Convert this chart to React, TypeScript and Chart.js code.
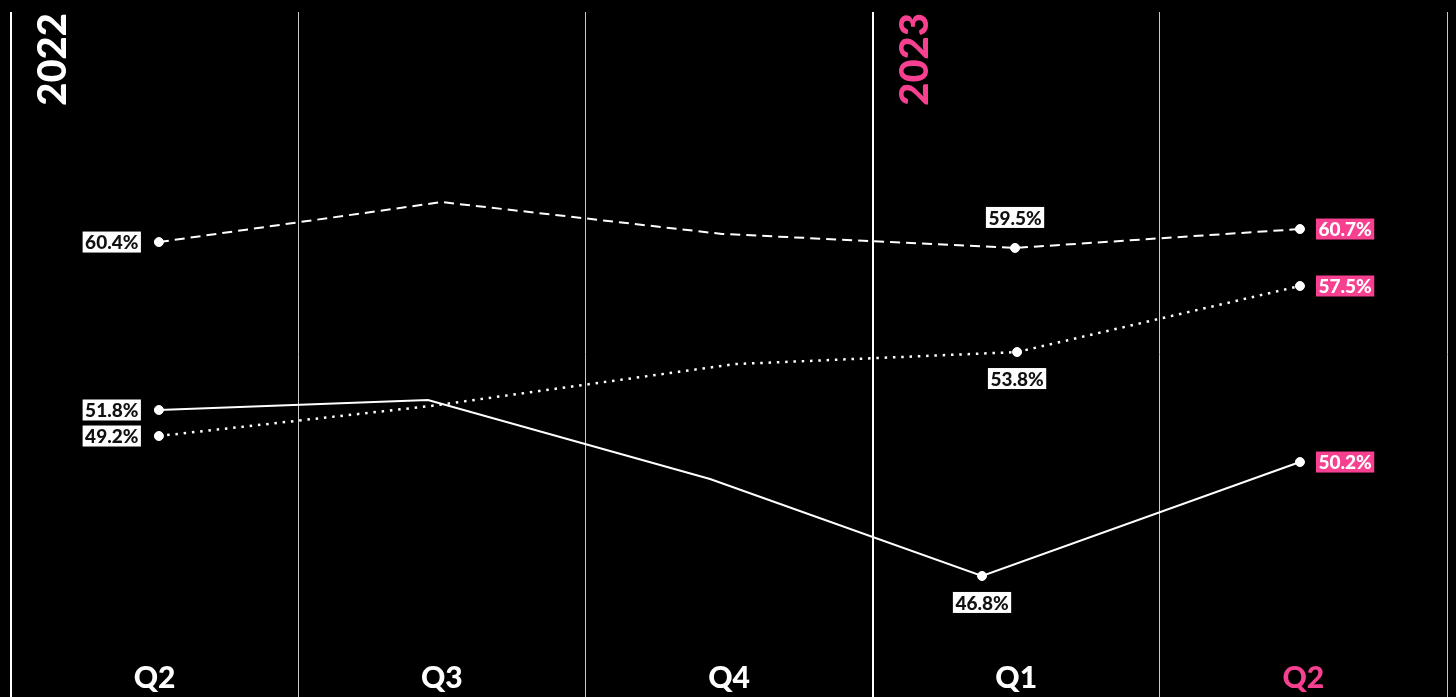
import React, { useEffect, useRef } from "react";
import { Chart, registerables } from "chart.js";

Chart.register(...registerables);

// ---- data ----
const quarters = ["Q2", "Q3", "Q4", "Q1", "Q2"];
const years = ["2022", "2023"];
const yearStartIndex = [0, 3];

// x positions in quarter units (0 = first Q2 column), y = plotted level
const dashedX = [0.015, 0.999, 1.976, 2.996, 3.988];
const dashedY = [60.43, 62.06, 60.76, 60.19, 60.96];
const dashedLabels = [60.4, null, null, 59.5, 60.7];

const dottedX = [0.015, 0.959, 2.021, 3.003, 3.988];
const dottedY = [52.53, 53.75, 55.46, 55.95, 58.64];
const dottedLabels = [49.2, null, null, 53.8, 57.5];

const solidX = [0.015, 0.952, 1.934, 2.881, 3.988];
const solidY = [53.59, 54.0, 50.78, 46.83, 51.47];
const solidLabels = [51.8, null, null, 46.8, 50.2];

const PINK = "#f7408f";
const FONT = "Lato, 'Open Sans', sans-serif";

function pts(xs: number[], ys: number[]) {
  return xs.map((x, i) => ({ x, y: ys[i] }));
}
function radii(labels: (number | null)[]) {
  return labels.map((l) => (l === null ? 0 : 4.5));
}

const overlayPlugin = {
  id: "overlay",
  beforeDraw(chart: any) {
    const { ctx, width, height } = chart;
    ctx.save();
    ctx.fillStyle = "#000";
    ctx.fillRect(0, 0, width, height);
    ctx.restore();
  },
  afterDatasetsDraw(chart: any) {
    const { ctx, chartArea } = chart;
    const xs = chart.scales.x;
    ctx.save();
    // data labels
    ctx.font = `900 19px ${FONT}`;
    ctx.textBaseline = "middle";
    chart.data.datasets.forEach((ds: any, di: number) => {
      const meta = chart.getDatasetMeta(di);
      ds.valueLabels.forEach((v: number | null, i: number) => {
        if (v === null) return;
        const el = meta.data[i];
        const px = el.x;
        const py = el.y;
        const text = `${v.toFixed(1)}%`;
        const tw = ctx.measureText(text).width;
        const bw = tw + 5;
        const bh = 21;
        const last = i === ds.valueLabels.length - 1;
        let bx: number, by: number;
        if (i === 0) {
          bx = px - 18 - bw;
          by = py - bh / 2;
        } else if (last) {
          bx = px + 16;
          by = py - bh / 2;
        } else if (ds.midSide === "above") {
          bx = px - bw / 2;
          by = py - 20 - bh;
        } else {
          bx = px - bw / 2;
          by = py + 16;
        }
        ctx.fillStyle = last ? PINK : "#ffffff";
        ctx.fillRect(bx, by, bw, bh);
        ctx.fillStyle = last ? "#ffffff" : "#111111";
        ctx.textAlign = "center";
        ctx.fillText(text, bx + bw / 2, by + bh / 2 + 1);
      });
    });
    // quarter labels
    ctx.font = `900 30px ${FONT}`;
    ctx.textAlign = "center";
    ctx.textBaseline = "alphabetic";
    quarters.forEach((q, i) => {
      ctx.fillStyle = i === quarters.length - 1 ? PINK : "#ffffff";
      ctx.fillText(q, xs.getPixelForValue(i), chartArea.bottom - 9);
    });
    // year labels (rotated)
    ctx.font = `900 40px ${FONT}`;
    years.forEach((y, k) => {
      const lineX = xs.getPixelForValue(yearStartIndex[k] - 0.5);
      ctx.save();
      ctx.translate(lineX + 55, chartArea.top + 1);
      ctx.rotate(-Math.PI / 2);
      ctx.textAlign = "right";
      ctx.textBaseline = "alphabetic";
      ctx.fillStyle = k === 0 ? "#ffffff" : PINK;
      ctx.fillText(y, 0, 0);
      ctx.restore();
    });
    ctx.restore();
  },
};

export default function App() {
  const ref = useRef<HTMLCanvasElement>(null);
  useEffect(() => {
    document.body.style.margin = "0";
    document.body.style.background = "#000";
    const canvas = ref.current!;
    const boundaries = [-0.5, 0.5, 1.5, 2.5, 3.5, 4.5];
    const yearLines = yearStartIndex.map((i) => i - 0.5);
    const chart = new Chart(canvas, {
      type: "line",
      data: {
        datasets: [
          {
            data: pts(dashedX, dashedY),
            borderColor: "#ffffff",
            borderWidth: 2,
            borderDash: [10, 6],
            pointRadius: radii(dashedLabels),
            pointBackgroundColor: "#ffffff",
            pointBorderColor: "#ffffff",
            pointBorderWidth: 1,
            valueLabels: dashedLabels,
            midSide: "above",
          } as any,
          {
            data: pts(dottedX, dottedY),
            borderColor: "#ffffff",
            borderWidth: 2.5,
            borderDash: [2.5, 5.8],
            pointRadius: radii(dottedLabels),
            pointBackgroundColor: "#ffffff",
            pointBorderColor: "#ffffff",
            pointBorderWidth: 1,
            valueLabels: dottedLabels,
            midSide: "below",
          } as any,
          {
            data: pts(solidX, solidY),
            borderColor: "#ffffff",
            borderWidth: 2,
            pointRadius: radii(solidLabels),
            pointBackgroundColor: "#ffffff",
            pointBorderColor: "#ffffff",
            pointBorderWidth: 1,
            valueLabels: solidLabels,
            midSide: "below",
          } as any,
        ],
      },
      options: {
        animation: false,
        responsive: false,
        devicePixelRatio: 1,
        layout: {
          autoPadding: false,
          padding: { left: 11, right: 9, top: 12, bottom: 0 },
        },
        plugins: { legend: { display: false }, tooltip: { enabled: false } },
        elements: { line: { tension: 0 } },
        scales: {
          x: {
            type: "linear",
            min: -0.5,
            max: 4.5,
            afterBuildTicks: (scale: any) => {
              scale.ticks = boundaries.map((v) => ({ value: v }));
            },
            afterFit: (scale: any) => {
              scale.height = 0;
            },
            ticks: { display: false },
            border: { display: false },
            grid: {
              drawTicks: false,
              color: (c: any) =>
                yearLines.includes(c.tick?.value) ? "#ffffff" : "#c8c8c8",
              lineWidth: (c: any) =>
                yearLines.includes(c.tick?.value) ? 2 : 1,
            },
          },
          y: {
            type: "linear",
            min: 41.9,
            max: 69.8,
            display: false,
          },
        },
      } as any,
      plugins: [overlayPlugin],
    });
    return () => chart.destroy();
  }, []);
  return (
    <div style={{ width: 1456, height: 697, background: "#000" }}>
      <canvas ref={ref} width={1456} height={697} style={{ display: "block" }} />
    </div>
  );
}
